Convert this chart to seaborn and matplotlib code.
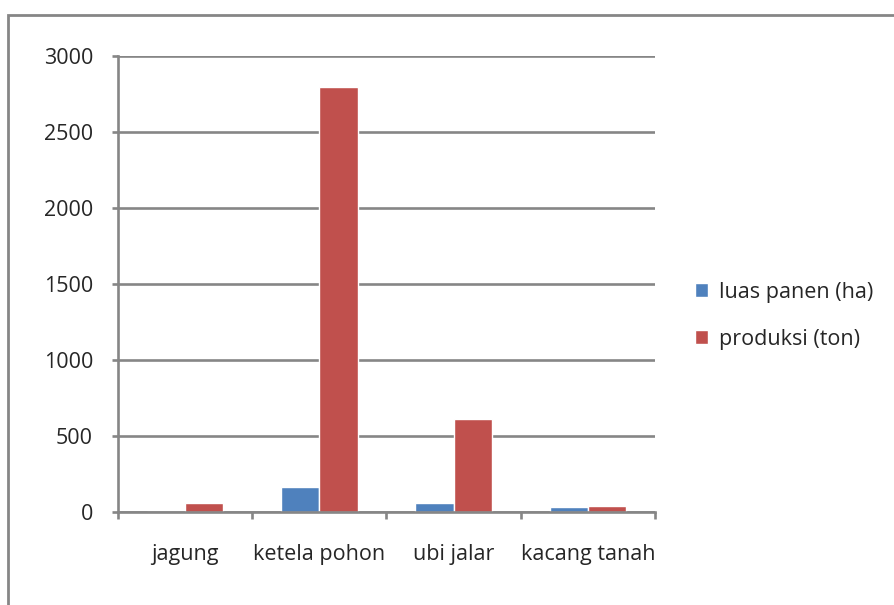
import pandas as pd
import numpy as np
import matplotlib.pyplot as plt
import seaborn as sns
from matplotlib.patches import Rectangle

categories = ["jagung", "ketela pohon", "ubi jalar", "kacang tanah"]
luas_panen = [0, 165, 60, 35]
produksi = [60, 2795, 615, 38]
series_names = ["luas panen (ha)", "produksi (ton)"]
yticks = [0, 500, 1000, 1500, 2000, 2500, 3000]

df = pd.DataFrame({
    "kategori": categories * 2,
    "nilai": luas_panen + produksi,
    "seri": [series_names[0]] * 4 + [series_names[1]] * 4,
})

sns.set_style("white")
plt.rcParams["font.family"] = ["Open Sans", "DejaVu Sans"]
grey = "#868686"
fs = 15.5

fig = plt.figure(figsize=(8.95, 6.05), dpi=100)
ax = fig.add_axes([0.1318, 0.1537, 0.6, 0.7537])

sns.barplot(data=df, x="kategori", y="nilai", hue="seri", ax=ax,
            palette=["#4F81BD", "#C0504D"], width=0.57, saturation=1,
            gap=0, legend=True)

ax.set_ylim(0, 3000)
ax.set_xlim(-0.5, 3.5)
ax.set_yticks(yticks)
ax.set_yticklabels([str(v) for v in yticks], fontsize=fs)
ax.yaxis.grid(True, color=grey, linewidth=1.9)
ax.set_axisbelow(True)
ax.set_xlabel("")
ax.set_ylabel("")

for s in ["top", "right"]:
    ax.spines[s].set_visible(False)
for s in ["left", "bottom"]:
    ax.spines[s].set_color(grey)
    ax.spines[s].set_linewidth(1.9)

ax.tick_params(axis="y", which="major", length=4, width=1.9, color=grey,
               pad=14, left=True)
ax.set_xticks(np.arange(-0.5, 4, 1), minor=True)
ax.tick_params(axis="x", which="minor", length=5, width=1.9, color=grey,
               bottom=True)
ax.tick_params(axis="x", which="major", length=0, pad=23, labelsize=fs)

h, l = ax.get_legend_handles_labels()
ax.get_legend().remove()
fig.legend(h, l, loc="center left", bbox_to_anchor=(0.755, 0.478),
           frameon=False, fontsize=fs, handlelength=0.6, handleheight=0.6,
           handletextpad=0.5, labelspacing=1.2)

fig.patches.append(Rectangle((8 / 895, -0.1), 1.2, 1 - 15 / 605 + 0.1,
                             transform=fig.transFigure, fill=False,
                             edgecolor=grey, linewidth=2))

fig.savefig("out.png", dpi=100, facecolor="w")
